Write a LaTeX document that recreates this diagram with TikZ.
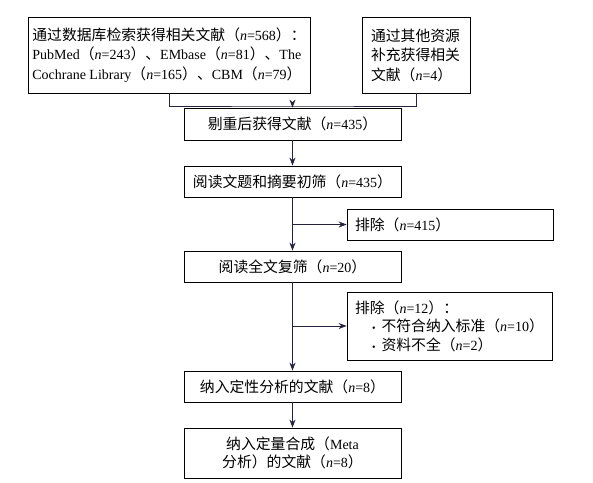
\documentclass[tikz,border=0pt]{standalone}
\usepackage{fontspec}
\setmainfont{Liberation Serif}
\newfontfamily\cjk[Scale=1.06]{Noto Sans CJK SC}
\usetikzlibrary{arrows.meta}
\definecolor{linkblue}{HTML}{24243C}
\newcommand{\zh}[1]{{\cjk #1}}
\newcommand{\cnt}[1]{\zh{（}\textit{n}=#1\zh{）}}
\newcommand{\bul}{\hspace*{17pt}{\fontsize{10pt}{10pt}\selectfont\textbullet}\hspace{6pt}}
\begin{document}
\begin{tikzpicture}[x=1pt,y=-1pt,
  font=\fontsize{14pt}{18.5pt}\selectfont,
  box/.style={draw, line width=0.8pt, minimum width=217pt, minimum height=32pt, inner sep=0pt, align=center},
  link/.style={draw=linkblue, line width=0.9pt},
  arr/.style={link, -{Stealth[length=8pt,width=6pt]}}]
\useasboundingbox (0,0) rectangle (593,482);

% search sources
\node[box, minimum width=282pt, minimum height=76pt, align=left, font=\fontsize{14pt}{19.5pt}\selectfont] (db) at (169,55)
  {\zh{通过数据库检索获得相关文献（}\textit{n}=568\zh{）：}\\
   PubMed\cnt{243}\zh{、}EMbase\cnt{81}\zh{、}The\\
   Cochrane Library\cnt{165}\zh{、}CBM\cnt{79}};
\node[box, minimum width=108pt, minimum height=76pt, text width=90pt, align=left, font=\fontsize{14pt}{19.5pt}\selectfont] (other) at (416,55)
  {\zh{通过其他资源}\\\zh{补充获得相关}\\\zh{文献}\cnt{4}};

% main flow
\node[box] (dedup) at (292.5,124) {\zh{剔重后获得文献}\cnt{435}};
\node[box, minimum height=31pt] (screen) at (292.5,181.5) {\zh{阅读文题和摘要初筛}\cnt{435}};
\node[box, minimum height=31pt] (full) at (292.5,266.5) {\zh{阅读全文复筛}\cnt{20}};
\node[box, minimum height=31pt] (qual) at (292.5,386.5) {\zh{纳入定性分析的文献}\cnt{8}};
\node[box, minimum height=50pt] (quant) at (292.5,453) {\zh{纳入定量合成（}Meta\\\zh{分析）的文献}\cnt{8}};

% exclusions
\node[box, minimum width=206pt, minimum height=31pt, text width=190pt, align=left] (excl1) at (450,224.5) {\zh{排除}\cnt{415}};
\node[box, minimum width=205pt, minimum height=68pt, text width=189pt, align=left] (excl2) at (449.5,326)
  {\zh{排除}\cnt{12}\zh{：}\\
   \bul\zh{不符合纳入标准}\cnt{10}\\
   \bul\zh{资料不全}\cnt{2}};

% connectors
\coordinate (join) at (292.5,106);
\draw[link] (db.south) |- (join) -| (other.south);
\draw[arr] (join) -- (dedup);
\draw[arr] (dedup) -- (screen);
\draw[arr] (screen) -- (full);
\draw[arr] (screen.south |- excl1.west) -- (excl1.west);
\draw[arr] (full) -- (qual);
\draw[arr] (full.south |- excl2.west) -- (excl2.west);
\draw[arr] (qual) -- (quant);
\end{tikzpicture}
\end{document}
